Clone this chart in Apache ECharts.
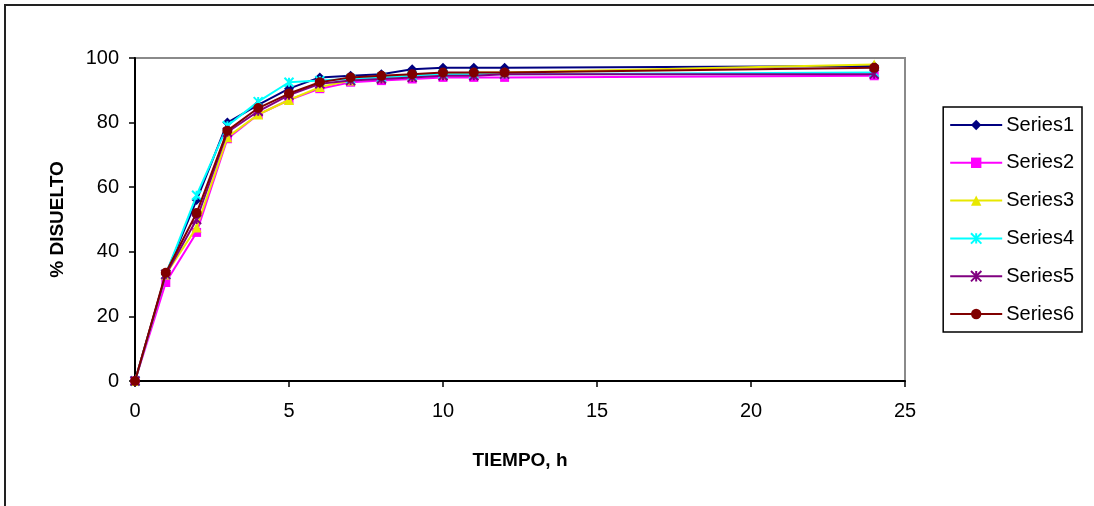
<!DOCTYPE html>
<html>
<head>
<meta charset="utf-8">
<script src="https://cdn.jsdelivr.net/npm/echarts@6/dist/echarts.min.js"></script>
<style>html,body{margin:0;padding:0;background:#fff}#c{width:1094px;height:506px}</style>
</head>
<body>
<div id="c"></div>
<script>
const hours = [0, 1, 2, 3, 4, 5, 6, 7, 8, 9, 10, 11, 12, 24];
const seriesNames = ['Series1', 'Series2', 'Series3', 'Series4', 'Series5', 'Series6'];
const series1 = [0, 33, 56, 80, 85.5, 90.5, 94, 94.5, 95, 96.5, 97, 97, 97, 97.5];
const series2 = [0, 30.5, 46, 75, 82.5, 87, 90.5, 92.5, 93, 93.5, 94, 94, 94, 94.5];
const series3 = [0, 33, 47.5, 75.5, 82.5, 87, 91, 93, 94, 94.5, 95, 95.5, 95.5, 98];
const series4 = [0, 33, 57.5, 79, 86.5, 92.5, 93, 93.5, 94, 94.5, 95, 95, 95, 95.5];
const series5 = [0, 33, 50, 77, 83.5, 88.5, 92, 93, 93.5, 94, 94.5, 94.5, 95, 95];
const series6 = [0, 33.5, 52, 77.5, 84.5, 89, 92.5, 94, 94.5, 95, 95.5, 95.5, 95.5, 97];
const xTicks = [0, 5, 10, 15, 20, 25];
const yTicks = [0, 20, 40, 60, 80, 100];

const allValues = [series1, series2, series3, series4, series5, series6];
const colors = ['#000080', '#FF00FF', '#E8E800', '#00FFFF', '#800080', '#800000'];
const symbols = [
  'diamond',
  'rect',
  'triangle',
  'path://M0,0L10,10M10,0L0,10M5,0L5,10',
  'path://M0,0L10,10M10,0L0,10M5,0L5,10',
  'circle'
];
const symbolSizes = [10, 9, 10, 9, 9, 10];

const chart = echarts.init(document.getElementById('c'));
const F = 'Liberation Sans, Arial, sans-serif';

chart.setOption({
  animation: false,
  backgroundColor: '#fff',
  color: colors,
  textStyle: { fontFamily: F },
  graphic: [{
    type: 'rect',
    shape: { x: 5, y: 5, width: 1100, height: 520 },
    style: { fill: 'none', stroke: '#222', lineWidth: 2 },
    silent: true
  }],
  grid: {
    left: 135, top: 58, right: 189, bottom: 125,
    show: true, borderColor: '#8a8a8a', borderWidth: 2, backgroundColor: 'transparent'
  },
  legend: {
    orient: 'vertical',
    right: 12, top: 107,
    width: 144,
    padding: [8, 8, 8, 6],
    itemGap: 17.8,
    itemWidth: 52, itemHeight: 13,
    borderColor: '#000', borderWidth: 1.5,
    textStyle: { fontSize: 20, color: '#000', fontFamily: F, padding: [0, 0, 0, -1], lineHeight: 20 },
    data: seriesNames
  },
  xAxis: {
    type: 'value',
    min: 0, max: 25, interval: 5,
    name: 'TIEMPO, h',
    nameLocation: 'middle',
    nameGap: 70,
    nameTextStyle: { fontSize: 19, fontWeight: 'bold', color: '#000', fontFamily: F },
    axisLine: { show: true, onZero: false, lineStyle: { color: '#000', width: 2 } },
    axisTick: { show: true, length: 6, lineStyle: { color: '#000', width: 1.5 } },
    axisLabel: { fontSize: 20, color: '#000', margin: 20, fontFamily: F,
      formatter: v => xTicks.includes(v) ? String(v) : '' },
    splitLine: { show: false }
  },
  yAxis: {
    type: 'value',
    min: 0, max: 100, interval: 20,
    name: '% DISUELTO',
    nameLocation: 'middle',
    nameGap: 68,
    nameRotate: 90,
    nameTextStyle: { fontSize: 19, fontWeight: 'bold', color: '#000', fontFamily: F },
    axisLine: { show: true, lineStyle: { color: '#000', width: 2 } },
    axisTick: { show: true, length: 6, lineStyle: { color: '#000', width: 1.5 } },
    axisLabel: { fontSize: 20, color: '#000', margin: 16, fontFamily: F,
      formatter: v => yTicks.includes(v) ? String(v) : '' },
    splitLine: { show: false }
  },
  series: allValues.map((vals, i) => ({
    name: seriesNames[i],
    type: 'line',
    data: hours.map((h, j) => [h, vals[j]]),
    symbol: symbols[i],
    symbolSize: symbolSizes[i],
    showAllSymbol: true,
    lineStyle: { width: 2, color: colors[i] },
    itemStyle: {
      color: colors[i],
      borderColor: colors[i],
      borderWidth: (i === 3 || i === 4) ? 2 : 0
    },
    emphasis: { disabled: true },
    z: 2 + i
  }))
});
</script>
</body>
</html>
